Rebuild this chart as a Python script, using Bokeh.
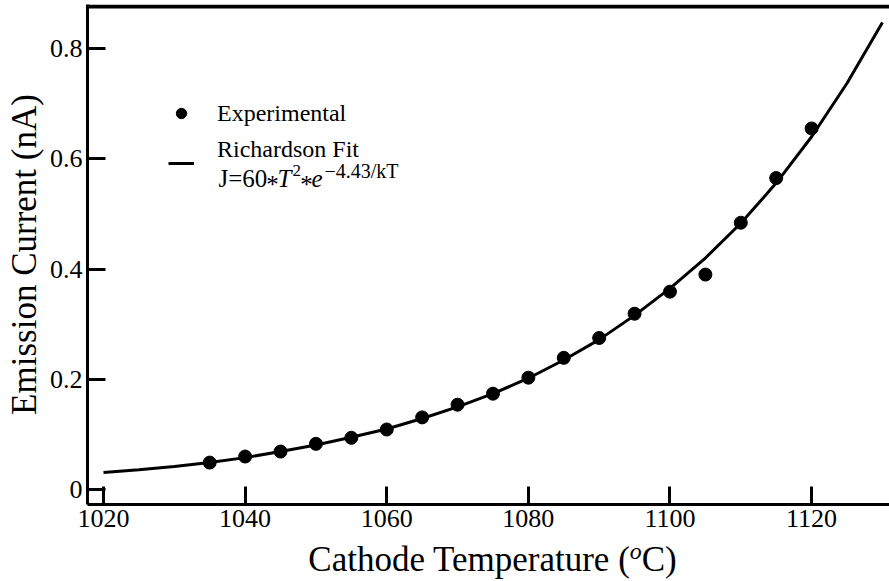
from bokeh.plotting import figure
from bokeh.models import Range1d, FixedTicker, Label, Legend, LegendItem, Span, Div
from bokeh.layouts import column
from bokeh.embed import file_html
from bokeh.resources import INLINE

# ---- data ----
temp_exp = [1035, 1040, 1045, 1050, 1055, 1060, 1065, 1070, 1075, 1080,
            1085, 1090, 1095, 1100, 1105, 1110, 1115, 1120]
current_exp = [0.049, 0.060, 0.069, 0.083, 0.094, 0.109, 0.131, 0.154, 0.174, 0.203,
               0.239, 0.275, 0.319, 0.359, 0.390, 0.484, 0.565, 0.655]

temp_fit = [1020, 1025, 1030, 1035, 1040, 1045, 1050, 1055, 1060, 1065, 1070, 1075,
            1080, 1085, 1090, 1095, 1100, 1105, 1110, 1115, 1120, 1125, 1130]
current_fit = [0.031, 0.036, 0.042, 0.049, 0.058, 0.069, 0.081, 0.095, 0.110, 0.129,
               0.150, 0.174, 0.202, 0.235, 0.272, 0.316, 0.365, 0.420, 0.483, 0.556,
               0.640, 0.737, 0.847]

x_ticks = [1020, 1040, 1060, 1080, 1100, 1120]
y_ticks = [0, 0.2, 0.4, 0.6, 0.8]
y_tick_labels = ["0", "0.2", "0.4", "0.6", "0.8"]

SERIF = "Liberation Serif"

p = figure(width=889, height=540, output_backend="svg", toolbar_location=None,
           x_range=Range1d(1017.74, 1131.0), y_range=Range1d(-0.027, 0.8798),
           min_border_left=87, min_border_right=0, min_border_top=4, min_border_bottom=36)
p.outline_line_color = None
p.xgrid.visible = False
p.ygrid.visible = False
p.background_fill_color = "white"
p.border_fill_color = "white"

for ax in (p.xaxis[0], p.yaxis[0]):
    ax.axis_line_width = 3
    ax.axis_line_color = "black"
    ax.major_tick_line_width = 3
    ax.major_tick_line_color = "black"
    ax.major_tick_in = 18
    ax.major_tick_out = 0
    ax.minor_tick_line_color = None
    ax.major_label_text_font = SERIF
    ax.major_label_text_font_size = "26px"
    ax.major_label_text_color = "black"
    ax.major_label_standoff = 5

p.xaxis.ticker = FixedTicker(ticks=x_ticks)
p.yaxis.ticker = FixedTicker(ticks=y_ticks)
p.yaxis.major_label_overrides = {t: s for t, s in zip(y_ticks, y_tick_labels)}

p.yaxis.axis_label = "Emission Current (nA)"
p.yaxis.axis_label_text_font = SERIF
p.yaxis.axis_label_text_font_size = "35px"
p.yaxis.axis_label_text_font_style = "normal"
p.yaxis.axis_label_text_color = "black"
p.yaxis.axis_label_standoff = 3

# top frame line (2 px inside the frame top so it is not clipped)
p.add_layout(Span(location=p.y_range.end - 2.0 / 551.5, dimension="width",
                  line_color="black", line_width=4))

ln = p.line(temp_fit, current_fit, line_color="black", line_width=3)
sc = p.scatter(temp_exp, current_exp, size=13, fill_color="black", line_color="black")

legend = Legend(items=[LegendItem(label="Experimental", renderers=[sc]),
                       LegendItem(label="Richardson Fit\n\u00a0", renderers=[ln])],
                location=(81, 314), orientation="vertical",
                label_text_font=SERIF, label_text_font_size="24px", label_text_color="black",
                label_text_line_height=1.1,
                glyph_width=26, glyph_height=28, label_standoff=23, spacing=9,
                padding=0, margin=0, border_line_color=None, background_fill_alpha=0)
p.add_layout(legend)

# formula line of the legend (screen units relative to the frame)
def lab(text, x, y, size, style="normal", align="left"):
    p.add_layout(Label(x=x, y=y, x_units="screen", y_units="screen", text=text,
                       text_font=SERIF, text_font_size=size, text_font_style=style,
                       text_color="black", text_align=align, text_baseline="alphabetic"))

base = 326
lab("J=60", 131, base, "25px")
lab("*", 185, base - 6, "25px", align="center")
lab("T", 190, base, "25px", "italic")
lab("2", 205, base + 8, "17px")
lab("*", 219, base - 6, "25px", align="center")
lab("e", 224, base, "25px", "italic")
lab("\u22124.43/kT", 237, base + 8, "20px")

# x axis title (with italic superscript o) as real HTML text below the plot
xlabel = Div(
    text=("<div style=\"width:793px; margin-left:96px; text-align:center; "
          "font-family:'Liberation Serif'; font-size:35px; line-height:40px; "
          "color:black; white-space:nowrap;\">Cathode Temperature ("
          "<span style=\"position:relative; top:-0.5em; font-size:0.68em; "
          "font-style:italic;\">o</span>C)</div>"),
    width=889, height=41, margin=0)

layout = column(p, xlabel, spacing=0)
open("out.html", "w").write(file_html(layout, INLINE))
